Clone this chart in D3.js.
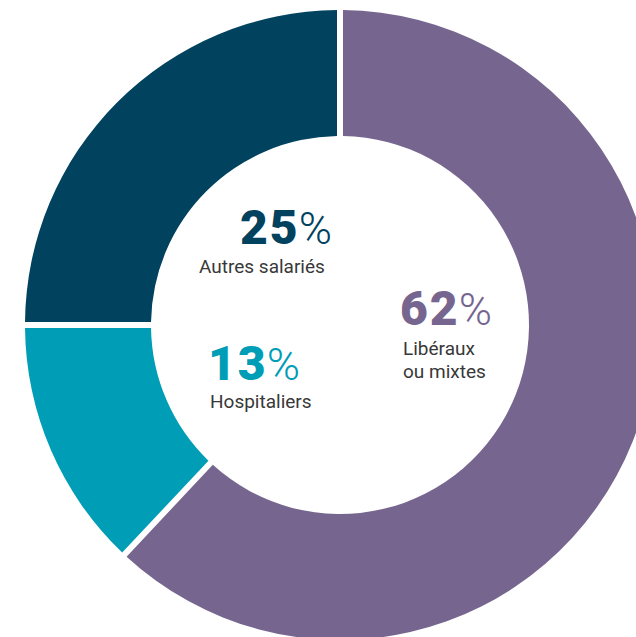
<!DOCTYPE html>
<html>
<head>
<meta charset="utf-8">
<script src="https://cdn.jsdelivr.net/npm/d3@7"></script>
<style>
  html, body { margin: 0; padding: 0; background: #fff; }
  svg { display: block; }
</style>
</head>
<body>
<div id="chart"></div>
<script>
// slices in drawing order, clockwise from 12 o'clock
const categories = ['Libéraux ou mixtes', 'Hospitaliers', 'Autres salariés'];
const values = [62, 13, 25];
const labelLines = [['Libéraux', 'ou mixtes'], ['Hospitaliers'], ['Autres salariés']];
const colors = ['#76668f', '#009db6', '#01425f'];

const width = 636, height = 637;
const cx = 340, cy = 325;
const outerR = 315, innerR = 189;
const gap = 6;

// label placement relative to centre (layout only)
const labelPos = [
  { x: 63, y: 0, px: -3, ly: 30 },
  { x: -130, y: 55, px: -2, ly: 28 },
  { x: -141, y: -81, px: 41, ly: 29 }
];

const svg = d3.select('#chart')
  .append('svg')
  .attr('width', width)
  .attr('height', height);

const g = svg.append('g')
  .attr('transform', `translate(${cx},${cy})`);

const pie = d3.pie().sort(null).value(d => d);
const arc = d3.arc()
  .innerRadius(innerR)
  .outerRadius(outerR)
  .padRadius(outerR)
  .padAngle(gap / outerR);

g.selectAll('path')
  .data(pie(values))
  .enter()
  .append('path')
  .attr('d', arc)
  .style('fill', (d, i) => colors[i]);

const labels = g.selectAll('g.label')
  .data(values)
  .enter()
  .append('g')
  .attr('class', 'label')
  .attr('transform', (d, i) => `translate(${labelPos[i].x},${labelPos[i].y})`);

const pct = labels.append('text')
  .attr('x', (d, i) => labelPos[i].px)
  .attr('y', 0)
  .style('fill', (d, i) => colors[i])
  .style('font-family', 'Roboto, sans-serif')
  .style('font-size', '48px');

pct.append('tspan')
  .style('font-weight', 900)
  .style('letter-spacing', '2px')
  .text(d => d);
pct.append('tspan')
  .attr('dx', -1)
  .style('font-weight', 300)
  .style('font-size', '45px')
  .text('%');

labels.each(function (d, i) {
  const t = d3.select(this).append('text')
    .style('fill', '#383838')
    .style('font-family', 'Roboto, sans-serif')
    .style('font-weight', 400)
    .style('font-size', '19px');
  labelLines[i].forEach((line, k) => {
    t.append('tspan')
      .attr('x', 0)
      .attr('y', labelPos[i].ly + k * 23)
      .text(line);
  });
});
</script>
</body>
</html>
